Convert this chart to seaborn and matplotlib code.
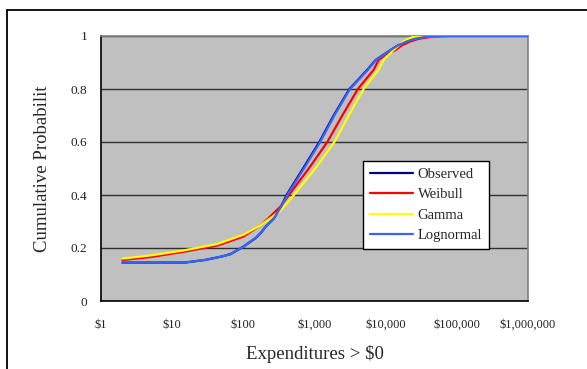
import pandas as pd
import matplotlib

matplotlib.use("Agg")
import matplotlib.pyplot as plt
import seaborn as sns
from matplotlib.patches import Rectangle

# --- data ---
obs_x = [2, 15, 29, 50, 66, 100, 120, 150, 180, 205, 265, 330, 405, 690, 1170, 1860,
         3100, 5500, 7200, 11700, 15000, 20000, 27000, 34700, 50000, 74000]
obs_p = [0.145, 0.145, 0.155, 0.168, 0.177, 0.205, 0.22, 0.238, 0.26, 0.28, 0.31, 0.35,
         0.40, 0.50, 0.60, 0.70, 0.80, 0.872, 0.909, 0.947, 0.965, 0.98, 0.99, 0.996,
         0.999, 1.0]

weib_x = [2, 5, 14, 43, 100, 174, 219, 331, 437, 832, 1514, 2455, 4074, 6761, 7943,
          10000, 13800, 17000, 22400, 30000, 38900, 60300]
weib_p = [0.155, 0.166, 0.185, 0.209, 0.243, 0.285, 0.309, 0.356, 0.40, 0.50, 0.60,
          0.70, 0.80, 0.872, 0.909, 0.93, 0.947, 0.965, 0.98, 0.99, 0.995, 1.0]

gamma_x = [2, 5, 14, 43, 100, 174, 331, 513, 1023, 1905, 3020, 4898, 7943, 9333,
           12900, 17800, 21000, 25100, 35000, 74100]
gamma_p = [0.16, 0.172, 0.19, 0.215, 0.25, 0.285, 0.34, 0.40, 0.50, 0.60, 0.70, 0.80,
           0.872, 0.909, 0.947, 0.98, 0.99, 0.998, 0.999, 1.0]

logn_x = [2, 15, 29, 50, 66, 100, 120, 150, 180, 205, 265, 330, 415, 710, 1200, 1900,
          3150, 5600, 7250, 11750, 15000, 20000, 27000, 34700, 50000, 74000, 1000000]
logn_p = [0.145, 0.145, 0.155, 0.168, 0.177, 0.205, 0.22, 0.238, 0.26, 0.28, 0.31, 0.35,
          0.40, 0.50, 0.60, 0.70, 0.80, 0.872, 0.909, 0.947, 0.965, 0.98, 0.99, 0.996,
          0.999, 1.0, 1.0]

series = ["Observed", "Weibull", "Gamma", "Lognormal"]
colors = ["#000080", "#FF0000", "#FFFF00", "#3366FF"]

x_ticks = [1, 10, 100, 1000, 10000, 100000, 1000000]
x_labels = ["$1", "$10", "$100", "$1,000", "$10,000", "$100,000", "$1,000,000"]
y_ticks = [0, 0.2, 0.4, 0.6, 0.8, 1.0]
y_labels = ["0", "0.2", "0.4", "0.6", "0.8", "1"]

frames = []
for name, xs, ps in zip(series, [obs_x, weib_x, gamma_x, logn_x],
                        [obs_p, weib_p, gamma_p, logn_p]):
    frames.append(pd.DataFrame({"x": xs, "p": ps, "series": name}))
df = pd.concat(frames, ignore_index=True)

sns.set_style("white")
plt.rcParams["font.family"] = ["Liberation Serif", "DejaVu Serif"]
plt.rcParams["mathtext.default"] = "regular"

fig = plt.figure(figsize=(5.87, 3.69), dpi=100)
ax = fig.add_axes([101 / 587, 1 - 301 / 369, 427 / 587, 265 / 369])
ax.set_facecolor("#C0C0C0")

for i, (name, col) in enumerate(zip(series, colors)):
    sns.lineplot(data=df[df["series"] == name], x="x", y="p", color=col, lw=1.6,
                 estimator=None, sort=False, label=name, ax=ax, zorder=3 + i)

ax.set_xscale("log")
ax.set_xlim(1, 1000000)
ax.set_ylim(0, 1)
ax.set_xticks(x_ticks)
ax.set_xticklabels([s.replace("$", r"\$") for s in x_labels], fontsize=9)
ax.minorticks_off()
ax.set_yticks(y_ticks)
ax.set_yticklabels(y_labels, fontsize=9.5)
ax.tick_params(axis="both", direction="out", length=4, width=1, color="#000000",
               pad=6, labelcolor="#222222")
ax.tick_params(axis="x", pad=9)
ax.grid(axis="y", color="#303030", lw=1)
ax.grid(axis="x", visible=False)
ax.set_axisbelow(True)

for side in ["left", "bottom"]:
    ax.spines[side].set_color("#000000")
    ax.spines[side].set_linewidth(1.2)
for side in ["top", "right"]:
    ax.spines[side].set_color("#808080")
    ax.spines[side].set_linewidth(1.2)

ax.set_xlabel(r"Expenditures > \$0", fontsize=13.5, labelpad=10)
ax.set_ylabel("Cumulative Probabilit", fontsize=13.5, labelpad=14)

leg = ax.legend(loc="upper left", bbox_to_anchor=(262 / 427, 140 / 265),
                borderaxespad=0, frameon=True, fancybox=False, fontsize=10.5,
                handlelength=3.0, labelspacing=0.5, handletextpad=0.3,
                borderpad=0.45)
leg.get_frame().set_edgecolor("#000000")
leg.get_frame().set_facecolor("white")
leg.get_frame().set_alpha(1)
leg.get_frame().set_linewidth(1)
for line in leg.get_lines():
    line.set_linewidth(1.6)

# outer chart frame (runs off the right and bottom edges)
fig.patches.append(Rectangle((7 / 587, -0.2), 1.2, 1.2 - 10 / 369,
                             transform=fig.transFigure, fill=False,
                             edgecolor="#000000", lw=1.3))

fig.savefig("out.png", dpi=100)
